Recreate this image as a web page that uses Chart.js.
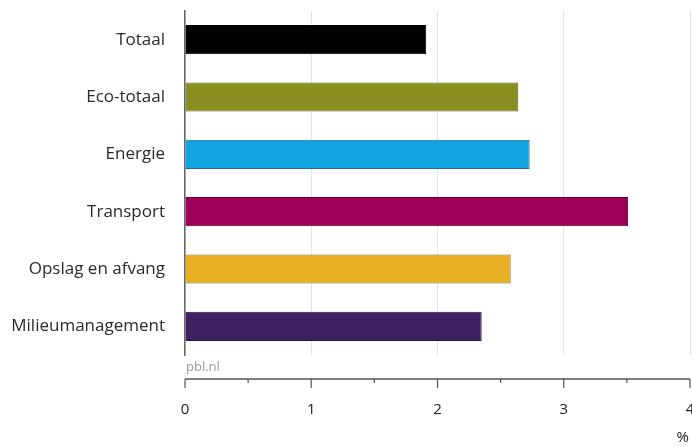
<!DOCTYPE html>
<html>
<head>
<meta charset="utf-8">
<script src="https://cdn.jsdelivr.net/npm/chart.js@4/dist/chart.umd.min.js"></script>
<style>
  html, body { margin: 0; padding: 0; background: #fff; }
  #wrap { width: 692px; height: 447px; position: relative; }
</style>
</head>
<body>
<div id="wrap"><canvas id="groeiChart"></canvas></div>
<script>
// data
const categories = ["Totaal", "Eco-totaal", "Energie", "Transport", "Opslag en afvang", "Milieumanagement"];
const values = [1.91, 2.64, 2.73, 3.51, 2.58, 2.35];
const barColors = ["#000000", "#8a8f22", "#12a3e1", "#9e0059", "#e8ae24", "#3e2160"];
const barBorders = ["#000000", "#5c6015", "#1f6c8c", "#5e0036", "#8a6a18", "#24123a"];
const xTicks = [0, 1, 2, 3, 4];
const unitLabel = "%";
const sourceLabel = "pbl.nl";

const labelFont = "'Open Sans', 'Noto Sans', sans-serif";

// draws the detached bottom axis, source note and unit
const bottomAxis = {
  id: "bottomAxis",
  afterDraw(chart) {
    const ctx = chart.ctx;
    const x = chart.scales.x;
    const area = chart.chartArea;
    const axisY = area.bottom + 24;
    ctx.save();

    // source
    ctx.fillStyle = "#9a9a9a";
    ctx.font = "13px " + labelFont;
    ctx.textAlign = "left";
    ctx.textBaseline = "alphabetic";
    ctx.fillText(sourceLabel, x.getPixelForValue(0) + 1, area.bottom + 16);

    // axis line
    ctx.strokeStyle = "#555";
    ctx.lineWidth = 1.5;
    ctx.beginPath();
    ctx.moveTo(x.getPixelForValue(xTicks[0]), axisY);
    ctx.lineTo(x.getPixelForValue(xTicks[xTicks.length - 1]), axisY);
    ctx.stroke();

    // ticks, major and minor
    ctx.lineWidth = 1.2;
    xTicks.forEach((v, i) => {
      const px = x.getPixelForValue(v);
      ctx.beginPath();
      ctx.moveTo(px, axisY);
      ctx.lineTo(px, axisY + 9);
      ctx.stroke();
      if (i < xTicks.length - 1) {
        const mx = x.getPixelForValue((v + xTicks[i + 1]) / 2);
        ctx.beginPath();
        ctx.moveTo(mx, axisY);
        ctx.lineTo(mx, axisY + 4);
        ctx.stroke();
      }
    });

    // tick labels
    ctx.fillStyle = "#222";
    ctx.font = "15px " + labelFont;
    ctx.textAlign = "center";
    ctx.textBaseline = "middle";
    xTicks.forEach((v) => {
      ctx.fillText(String(v), x.getPixelForValue(v), axisY + 31);
    });

    // unit
    ctx.textAlign = "right";
    ctx.fillText(unitLabel, area.right - 1, axisY + 59);
    ctx.restore();
  },
};

new Chart(document.getElementById("groeiChart"), {
  type: "bar",
  data: {
    labels: categories,
    datasets: [
      {
        data: values,
        backgroundColor: barColors,
        borderColor: barBorders,
        borderWidth: 1,
        borderSkipped: "left",
        barPercentage: 0.51,
        categoryPercentage: 1,
      },
    ],
  },
  options: {
    indexAxis: "y",
    responsive: true,
    maintainAspectRatio: false,
    animation: false,
    layout: { padding: { top: 11, right: 2, bottom: 92, left: 0 } },
    plugins: {
      legend: { display: false },
      tooltip: { enabled: false },
    },
    scales: {
      x: {
        min: 0,
        max: 4,
        ticks: { display: false, stepSize: 1 },
        grid: { color: "#e4e4e4", lineWidth: 1, drawTicks: false },
        border: { display: false },
      },
      y: {
        afterFit: (scale) => {
          scale.width = 185;
          // no extra room for the label halves above/below
          scale.paddingTop = 0;
          scale.paddingBottom = 0;
        },
        ticks: {
          color: "#2a2a2a",
          padding: 20,
          font: { family: labelFont, size: 17 },
        },
        grid: { color: "rgba(0,0,0,0)", drawTicks: false },
        border: { display: true, color: "#666", width: 1.5 },
      },
    },
  },
  plugins: [bottomAxis],
});
</script>
</body>
</html>
